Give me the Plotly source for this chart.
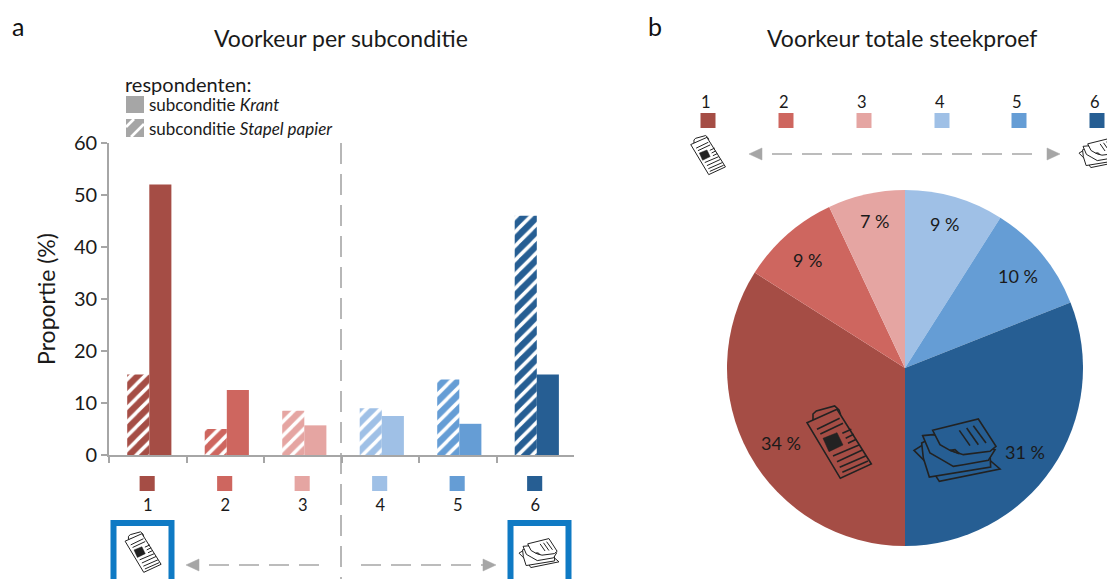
import plotly.graph_objects as go

W, H = 1107, 579
FONT = "Lato"
categories = ["1", "2", "3", "4", "5", "6"]
colors = ["#A54D45", "#CE665F", "#E5A5A2", "#9FC0E6", "#659DD5", "#265E93"]
stapel_papier = [15.5, 5, 8.5, 9, 14.5, 46]
krant = [52, 12.5, 5.7, 7.5, 6, 15.5]
totaal = [34, 9, 7, 9, 10, 31]
totaal_labels = ["34 %", "9 %", "7 %", "9 %", "10 %", "31 %"]
GRAY = "#A6A6A6"
BOX = "#0F7AC4"
TXT = "#1a1a1a"


def px(x):
    return x / W


def py(y):
    return 1 - y / H


fig = go.Figure()

for cat, val, col in zip(categories, stapel_papier, colors):
    fig.add_bar(x=[cat], y=[val], name="subconditie Stapel papier", width=0.285, offset=-0.265,
                marker=dict(color=col, line_width=0,
                            pattern=dict(shape="/", fillmode="replace", fgcolor="rgb(255,255,255)", bgcolor=col,
                                         fgopacity=1, size=10, solidity=0.35)),
                xaxis="x", yaxis="y", hoverinfo="skip")
fig.add_bar(x=categories, y=krant, name="subconditie Krant", width=0.285, offset=0.02,
            marker=dict(color=colors, line_width=0),
            xaxis="x", yaxis="y", hoverinfo="skip")
fig.add_pie(values=totaal, labels=categories, sort=False, direction="clockwise", rotation=180,
            marker=dict(colors=colors, line_width=0), textinfo="none", hoverinfo="skip",
            domain=dict(x=[px(727), px(1083)], y=[py(546), py(190)]))

shapes = []
annotations = []


def line(x0, y0, x1, y1, color=GRAY, width=1.6, dash="solid", layer="above"):
    shapes.append(dict(type="line", xref="paper", yref="paper", x0=px(x0), y0=py(y0), x1=px(x1), y1=py(y1),
                       line=dict(color=color, width=width, dash=dash), layer=layer))


def rect(x0, y0, x1, y1, fill=None, lcolor=None, lwidth=0):
    shapes.append(dict(type="rect", xref="paper", yref="paper", x0=px(x0), y0=py(y0), x1=px(x1), y1=py(y1),
                       fillcolor=fill if fill else "rgba(0,0,0,0)",
                       line=dict(color=lcolor if lcolor else "rgba(0,0,0,0)", width=lwidth)))


def poly(points, fill=None, color="#222222", width=1.2, closed=True):
    d = "M " + " L ".join(f"{px(x):.5f},{py(y):.5f}" for x, y in points)
    if closed:
        d += " Z"
    shapes.append(dict(type="path", xref="paper", yref="paper", path=d,
                       fillcolor=fill if fill else "rgba(0,0,0,0)",
                       line=dict(color=color, width=width)))


def text(x, y, s, size, anchor="center", color=TXT, angle=0):
    annotations.append(dict(x=px(x), y=py(y), xref="paper", yref="paper", text=s, showarrow=False,
                            xanchor=anchor, yanchor="middle", textangle=angle,
                            font=dict(family=FONT, size=size, color=color)))


NEWS_CENTER = (268, 156)
NEWS_OUTLINE = [(172, 98), (262, 58), (365, 222), (272, 265)]
NEWS_FOLD = [(190, 90), (190, 72), (200, 63), (255, 48), (268, 60), (272, 72)]
NEWS_BLOCK = [(220, 145), (262, 128), (280, 165), (238, 185)]
NEWS_LINES = [((202, 118), (270, 85)), ((212, 132), (280, 100)),
              ((278, 130), (305, 118)), ((288, 145), (312, 133)), ((295, 160), (320, 148)),
              ((250, 198), (328, 165)), ((262, 215), (338, 180)), ((270, 232), (348, 198)), ((278, 247), (355, 213))]


def newspaper(cx, cy, scale, fill, width):
    f = lambda p: (cx + (p[0] - NEWS_CENTER[0]) / 3 * scale, cy + (p[1] - NEWS_CENTER[1]) / 3 * scale)
    poly([f(p) for p in NEWS_FOLD], fill=fill, width=width)
    poly([f(p) for p in NEWS_OUTLINE], fill=fill, width=width)
    poly([f(p) for p in NEWS_BLOCK], fill="#222222", width=0.5)
    for a, b in NEWS_LINES:
        poly([f(a), f(b)], width=width, closed=False)


STACK_CENTER = (621, 181)
STACK_SHEETS = [
    [(492, 182), (520, 165), (700, 195), (750, 238), (568, 275), (535, 225)],
    [(515, 160), (555, 140), (720, 190), (722, 232), (538, 262), (520, 205)],
    [(518, 138), (550, 135), (735, 180), (715, 212), (640, 225), (610, 230), (575, 210), (540, 190)],
    [(548, 122), (685, 88), (738, 170), (720, 185), (640, 195), (600, 182), (570, 165)],
]
STACK_FOLD = [(600, 182), (628, 192), (615, 180)]
STACK_LINES = [((628, 122), (660, 168)), ((650, 115), (685, 165)), ((670, 108), (708, 160))]


def stack(cx, cy, scale, fill, width):
    f = lambda p: (cx + (p[0] - STACK_CENTER[0]) / 3 * scale, cy + (p[1] - STACK_CENTER[1]) / 3 * scale)
    for sheet in STACK_SHEETS:
        poly([f(p) for p in sheet], fill=fill, width=width)
    poly([f(p) for p in STACK_FOLD], fill=fill, width=width)
    for a, b in STACK_LINES:
        poly([f(a), f(b)], width=width, closed=False)


def tri(x, y, direction):
    poly([(x, y - 6), (x, y + 6), (x + direction * 13, y)], fill=GRAY, color=GRAY, width=0.5)


# colour keys under the category axis, placed on the category scale
for i, col in enumerate(colors):
    shapes.append(dict(type="rect", xref="x", yref="paper", x0=i - 0.105, x1=i + 0.09,
                       y0=py(491), y1=py(476), fillcolor=col, line_width=0))

# panel a decorations
line(341, 143, 341, 579, dash="21px,10px")
rect(126, 96, 144, 113, fill=GRAY)
rect(126, 119, 144, 137, fill=GRAY)
for a, b, c, d in [(126, 127, 134, 119), (131, 137, 144, 124)]:
    line(a, b, c, d, color="white", width=2.6)
for x0, x1 in [(113.5, 171.5), (510.5, 568.5)]:
    rect(x0, 523, x1, 590, lcolor=BOX, lwidth=6)
newspaper(143, 552, 0.56, "white", 1)
stack(539, 553, 0.465, "white", 1)
tri(199, 565, -1)
line(209, 565, 320, 565, dash="20px,10px")
line(361, 565, 483, 565, dash="20px,10px")
tri(483, 565, 1)

# panel b decorations
for i, (cx, col) in enumerate(zip([708, 786, 864, 942, 1019, 1097], colors)):
    rect(cx - 7.5, 113, cx + 7.5, 128, fill=col)
    text(cx - 2, 102, categories[i], 16.5)
tri(762, 154, -1)
line(772, 154, 1036, 154, dash="20px,10px")
tri(1047, 154, 1)
newspaper(708, 155, 0.54, "white", 1)
stack(1099, 153, 0.465, "white", 1)
newspaper(839, 442, 1, colors[0], 1.6)
stack(957, 450, 1, colors[5], 1.6)

# texts
text(18, 26, "a", 25, color="#111111")
text(655, 26, "b", 25, color="#111111")
text(341, 38, "Voorkeur per subconditie", 23)
text(902, 38, "Voorkeur totale steekproef", 23)
text(123, 84, "respondenten:", 20, anchor="left")
text(147, 105, "subconditie <i>Krant</i>", 17, anchor="left")
text(147, 128, "subconditie <i>Stapel papier</i>", 17, anchor="left")
for lab, (x, y) in zip(totaal_labels, [(781, 443), (807, 260), (874, 221), (944, 224), (1018, 276), (1025, 452)]):
    text(x, y, lab, 18)

fig.update_layout(
    width=W, height=H, margin=dict(l=0, r=0, t=0, b=0), showlegend=False,
    paper_bgcolor="white", plot_bgcolor="white",
    font=dict(family=FONT, color=TXT),
    shapes=shapes, annotations=annotations,
    xaxis=dict(domain=[px(109), px(574)], type="category", tickson="boundaries", ticks="outside",
               ticklen=6, tickcolor=GRAY, tickwidth=1.5, linecolor=GRAY, linewidth=1.8, automargin=False,
               showgrid=False, zeroline=False, tickfont=dict(size=16.5, family=FONT, color=TXT),
               ticklabelstandoff=34, anchor="y", range=[-0.5, 5.5], fixedrange=True,
               categoryorder="array", categoryarray=categories),
    yaxis=dict(domain=[py(455), py(143)], range=[0, 60], dtick=10, ticks="outside", ticklen=6,
               tickcolor=GRAY, tickwidth=1.5, linecolor=GRAY, linewidth=1.8, showgrid=False, automargin=False,
               zeroline=False, tickfont=dict(size=20, family=FONT, color=TXT),
               title=dict(text="Proportie (%)", font=dict(size=23, family=FONT, color=TXT), standoff=12),
               anchor="x", fixedrange=True),
)

fig.write_html("out.html", config=dict(displayModeBar=False),
               post_script="document.body.style.margin='0';")
